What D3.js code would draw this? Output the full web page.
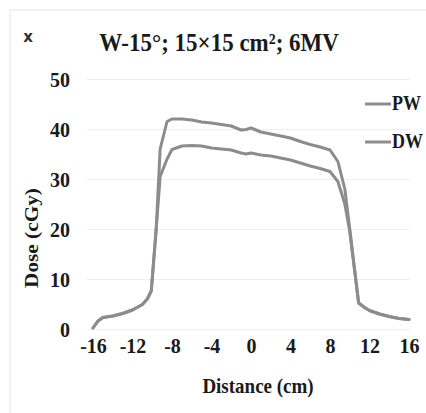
<!DOCTYPE html>
<html>
<head>
<meta charset="utf-8">
<script src="https://cdn.jsdelivr.net/npm/d3@7/dist/d3.min.js"></script>
<style>
  html, body { margin: 0; padding: 0; background: #fff; }
  svg { display: block; }
  text { font-family: "Liberation Serif", "Times New Roman", serif; font-weight: bold; fill: #1a1a1a; }
</style>
</head>
<body>
<svg id="chart" width="426" height="413"></svg>
<script>
// ---- data ----
const title = "W-15°; 15×15 cm²; 6MV";
const xLabel = "Distance (cm)";
const yLabel = "Dose (cGy)";
const seriesNames = ["PW", "DW"];
const xTicks = [-16, -12, -8, -4, 0, 4, 8, 12, 16];
const yTicks = [0, 10, 20, 30, 40, 50];
const distance = [-16, -15.5, -15, -14, -13, -12, -11, -10.5, -10.1, -9.6, -9.2, -8.5, -8, -7, -6, -5, -4, -3, -2, -1, -0.5, 0, 1, 2, 3, 4, 5, 6, 7, 8, 8.8, 9.5, 10, 10.9, 11.5, 12, 13, 14, 15, 16];
const pwDose = [0.2, 1.6, 2.3, 2.6, 3.1, 3.8, 4.9, 6.0, 7.6, 20, 36, 41.5, 42, 42, 41.8, 41.4, 41.2, 40.9, 40.6, 39.8, 39.9, 40.2, 39.4, 39.0, 38.6, 38.2, 37.5, 36.9, 36.4, 35.8, 33.5, 28, 20, 5.2, 4.3, 3.7, 3.0, 2.5, 2.1, 1.9];
const dwDose = [0.2, 1.6, 2.3, 2.6, 3.1, 3.8, 4.9, 6.0, 7.6, 20, 30.5, 34, 35.9, 36.6, 36.7, 36.6, 36.2, 36.0, 35.8, 35.2, 35.0, 35.2, 34.8, 34.6, 34.2, 33.8, 33.2, 32.6, 32.1, 31.5, 29.5, 25, 19.5, 5.2, 4.3, 3.7, 3.0, 2.5, 2.1, 1.9];

const svg = d3.select("#chart");
const lineColor = "#8c8c8c";

// frame
svg.append("line").attr("x1", 10).attr("y1", 10).attr("x2", 426).attr("y2", 10).attr("stroke", "#e4e4e4");
svg.append("line").attr("x1", 10).attr("y1", 10).attr("x2", 10).attr("y2", 413).attr("stroke", "#e4e4e4");

// close mark
svg.append("text").attr("x", 28).attr("y", 42).attr("text-anchor", "middle")
  .style("font-family", "'DejaVu Sans', sans-serif").style("font-weight", "bold")
  .style("font-size", "15px").style("fill", "#333").text("x");

const x = d3.scaleLinear().domain([-16, 16]).range([93, 409]);
const y = d3.scaleLinear().domain([0, 50]).range([329, 79]);

// gridlines
const grid = svg.append("g").attr("transform", "translate(87,0)")
  .call(d3.axisLeft(y).tickValues(yTicks).tickSize(-323).tickFormat(""));
grid.select(".domain").remove();
grid.selectAll(".tick line").attr("stroke", "#efefef").attr("stroke-width", 1.2);

// y tick labels
const ya = svg.append("g").attr("transform", "translate(87,0)")
  .call(d3.axisLeft(y).tickValues(yTicks).tickSize(0).tickPadding(17));
ya.select(".domain").remove();
ya.selectAll("text").style("font-family", "'Liberation Serif', serif").style("font-weight", "bold")
  .style("font-size", "20px").style("fill", "#1a1a1a").attr("dy", "0.36em");

// x tick labels
const xa = svg.append("g").attr("transform", "translate(0,329)")
  .call(d3.axisBottom(x).tickValues(xTicks).tickSize(0).tickPadding(24).tickFormat(d => String(d)));
xa.select(".domain").remove();
xa.selectAll("text").style("font-family", "'Liberation Serif', serif").style("font-weight", "bold")
  .style("font-size", "20px").style("fill", "#1a1a1a").attr("dy", "0");

// lines
const line = d3.line().x((d, i) => x(distance[i])).y(d => y(d));
[pwDose, dwDose].forEach(s => {
  svg.append("path").datum(s).attr("d", line)
    .attr("fill", "none").attr("stroke", lineColor).attr("stroke-width", 3)
    .attr("stroke-linejoin", "round").attr("stroke-linecap", "round");
});

// title & axis titles (slightly stretched vertically like the reference)
svg.append("text").attr("transform", "translate(219,51) scale(1,1.12)")
  .attr("text-anchor", "middle").style("font-size", "23px").text(title);
svg.append("text").attr("transform", "translate(258,393) scale(1,1.12)")
  .attr("text-anchor", "middle").style("font-size", "19px").text(xLabel);
svg.append("text").attr("transform", "translate(38,238) rotate(-90) scale(1.12,1)")
  .attr("text-anchor", "middle").style("font-size", "19px").text(yLabel);

// legend
const legY = [104, 142];
seriesNames.forEach((n, i) => {
  svg.append("line").attr("x1", 365).attr("x2", 391).attr("y1", legY[i]).attr("y2", legY[i])
    .attr("stroke", lineColor).attr("stroke-width", 3);
  svg.append("text").attr("transform", `translate(392,${legY[i] + 6}) scale(1,1.12)`)
    .style("font-size", "18px").text(n);
});
</script>
</body>
</html>
